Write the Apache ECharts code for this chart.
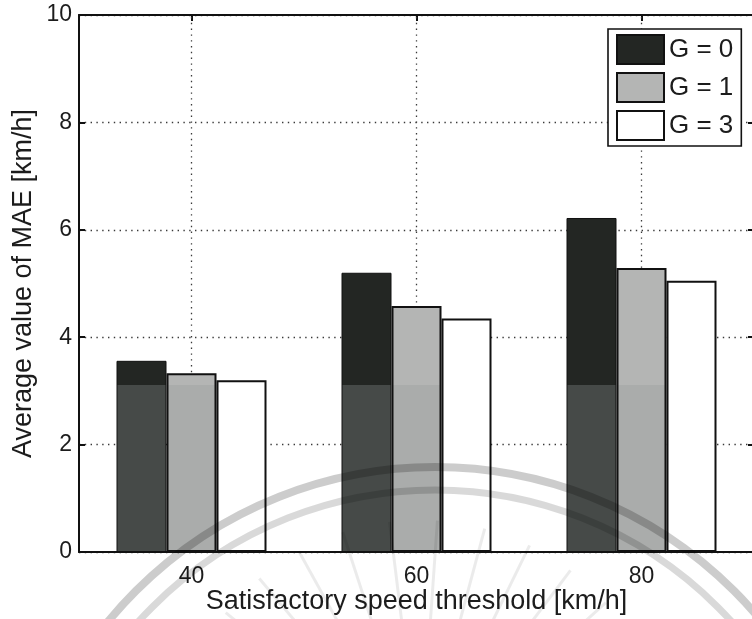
<!DOCTYPE html>
<html>
<head>
<meta charset="utf-8">
<script src="https://cdn.jsdelivr.net/npm/echarts@6/dist/echarts.min.js"></script>
<style>
  html, body { margin: 0; padding: 0; background: #fff; }
  #chart { width: 752px; height: 619px; }
</style>
</head>
<body>
<div id="chart"></div>
<script>
// Satisfactory speed thresholds (x categories)
const thresholds = ['40', '60', '80'];
// Average MAE [km/h] for each grouping level
const maeG0 = [3.56, 5.20, 6.22];
const maeG1 = [3.33, 4.58, 5.29];
const maeG3 = [3.20, 4.35, 5.05];
const seriesNames = ['G = 0', 'G = 1', 'G = 3'];
const yTicks = { min: 0, max: 10, step: 2 };

const FONT = "'Liberation Sans', Arial, Helvetica, sans-serif";
const TEXT = '#1c1c1c';
const dotted = { color: '#3a3a3a', width: 1.3, type: [1.4, 4.4] };

// dark fill with the scanned tone shift in the lower part of the page
const darkFill = {
  type: 'linear', x: 0, y: 0, x2: 0, y2: 619, global: true,
  colorStops: [
    { offset: 0, color: '#232623' },
    { offset: 385 / 619, color: '#232623' },
    { offset: 385 / 619, color: '#464a48' },
    { offset: 1, color: '#464a48' }
  ]
};
const lightFill = {
  type: 'linear', x: 0, y: 0, x2: 0, y2: 619, global: true,
  colorStops: [
    { offset: 0, color: '#b4b5b4' },
    { offset: 385 / 619, color: '#b4b5b4' },
    { offset: 385 / 619, color: '#aaacab' },
    { offset: 1, color: '#aaacab' }
  ]
};

const chart = echarts.init(document.getElementById('chart'), null, { renderer: 'canvas' });

// faint emblem printed across the lower part of the page
const watermark = [
  { type: 'arc', shape: { cx: 435, cy: 890, r: 423, startAngle: Math.PI * 1.0, endAngle: Math.PI * 2.0 }, style: { stroke: 'rgba(0,0,0,0.2)', lineWidth: 8, fill: null }, z: 100 },
  { type: 'arc', shape: { cx: 435, cy: 890, r: 400, startAngle: Math.PI * 1.0, endAngle: Math.PI * 2.0 }, style: { stroke: 'rgba(0,0,0,0.15)', lineWidth: 7, fill: null }, z: 100 }
];
// rays of the emblem
const rayAngles = [-152, -141, -130, -119, -108, -97, -86, -75, -64, -53, -42, -31];
rayAngles.forEach(function (a) {
  const t = a * Math.PI / 180;
  const cx = 420, cy = 770;
  watermark.push({
    type: 'line',
    shape: { x1: cx + Math.cos(t) * 150, y1: cy + Math.sin(t) * 150, x2: cx + Math.cos(t) * 250, y2: cy + Math.sin(t) * 250 },
    style: { stroke: 'rgba(0,0,0,0.08)', lineWidth: 3 },
    z: 100
  });
});

const barBase = { type: 'bar', barWidth: 50, barGap: '0%', z: 2 };
const frameLine = { show: true, onZero: false, lineStyle: { color: '#111', width: 2 } };
const innerTick = { show: true, inside: true, length: 6, lineStyle: { color: '#111', width: 2 } };

const option = {
  backgroundColor: '#ffffff',
  animation: false,
  textStyle: { fontFamily: FONT, color: TEXT },
  grid: { left: 79, top: 15, width: 675, height: 537, containLabel: false, outerBoundsMode: 'none' },
  legend: {
    orient: 'vertical',
    left: 608, top: 29,
    data: seriesNames,
    icon: 'rect',
    itemWidth: 47, itemHeight: 29, itemGap: 7,
    padding: [5, 8, 5, 8],
    borderColor: '#111', borderWidth: 1.6,
    backgroundColor: '#fff',
    textStyle: { fontFamily: FONT, fontSize: 26, color: TEXT },
    z: 20
  },
  xAxis: [
    {
      type: 'category', data: thresholds, position: 'bottom',
      name: 'Satisfactory speed threshold [km/h]', nameLocation: 'middle', nameGap: 36,
      nameMoveOverlap: false,
      nameTextStyle: { fontFamily: FONT, fontSize: 27, color: TEXT },
      axisLine: frameLine,
      axisTick: Object.assign({ alignWithLabel: true }, innerTick),
      axisLabel: { fontFamily: FONT, fontSize: 23, color: TEXT, margin: 13 },
      splitLine: { show: false }
    },
    {
      type: 'category', data: thresholds, position: 'top',
      axisLine: frameLine,
      axisTick: Object.assign({ alignWithLabel: true }, innerTick),
      axisLabel: { show: false },
      splitLine: { show: false }
    }
  ],
  yAxis: [
    {
      type: 'value', min: yTicks.min, max: yTicks.max, interval: yTicks.step, position: 'left',
      name: 'Average value of MAE [km/h]', nameLocation: 'middle', nameGap: 42, nameRotate: 90,
      nameMoveOverlap: false,
      nameTextStyle: { fontFamily: FONT, fontSize: 27, color: TEXT },
      axisLine: frameLine,
      axisTick: innerTick,
      axisLabel: { fontFamily: FONT, fontSize: 23, color: TEXT, margin: 7 },
      splitLine: { show: true, lineStyle: dotted }
    },
    {
      type: 'value', min: yTicks.min, max: yTicks.max, interval: yTicks.step, position: 'right',
      axisLine: frameLine,
      axisTick: innerTick,
      axisLabel: { show: false },
      splitLine: { show: false }
    }
  ],
  series: [
    Object.assign({}, barBase, {
      name: seriesNames[0], data: maeG0,
      itemStyle: { color: darkFill, borderColor: '#111', borderWidth: 1 }
    }),
    Object.assign({}, barBase, {
      name: seriesNames[1], data: maeG1,
      itemStyle: { color: lightFill, borderColor: '#111', borderWidth: 2 }
    }),
    Object.assign({}, barBase, {
      name: seriesNames[2], data: maeG3,
      itemStyle: { color: '#ffffff', borderColor: '#111', borderWidth: 2 }
    }),
    // vertical dotted grid lines at each category
    {
      type: 'line', data: [], z: 1, silent: true, legendHoverLink: false,
      markLine: {
        z: 1, silent: true, symbol: ['none', 'none'], label: { show: false },
        lineStyle: dotted,
        data: thresholds.map(function (c) { return { xAxis: c }; })
      }
    }
  ],
  graphic: watermark
};

chart.setOption(option);
</script>
</body>
</html>
